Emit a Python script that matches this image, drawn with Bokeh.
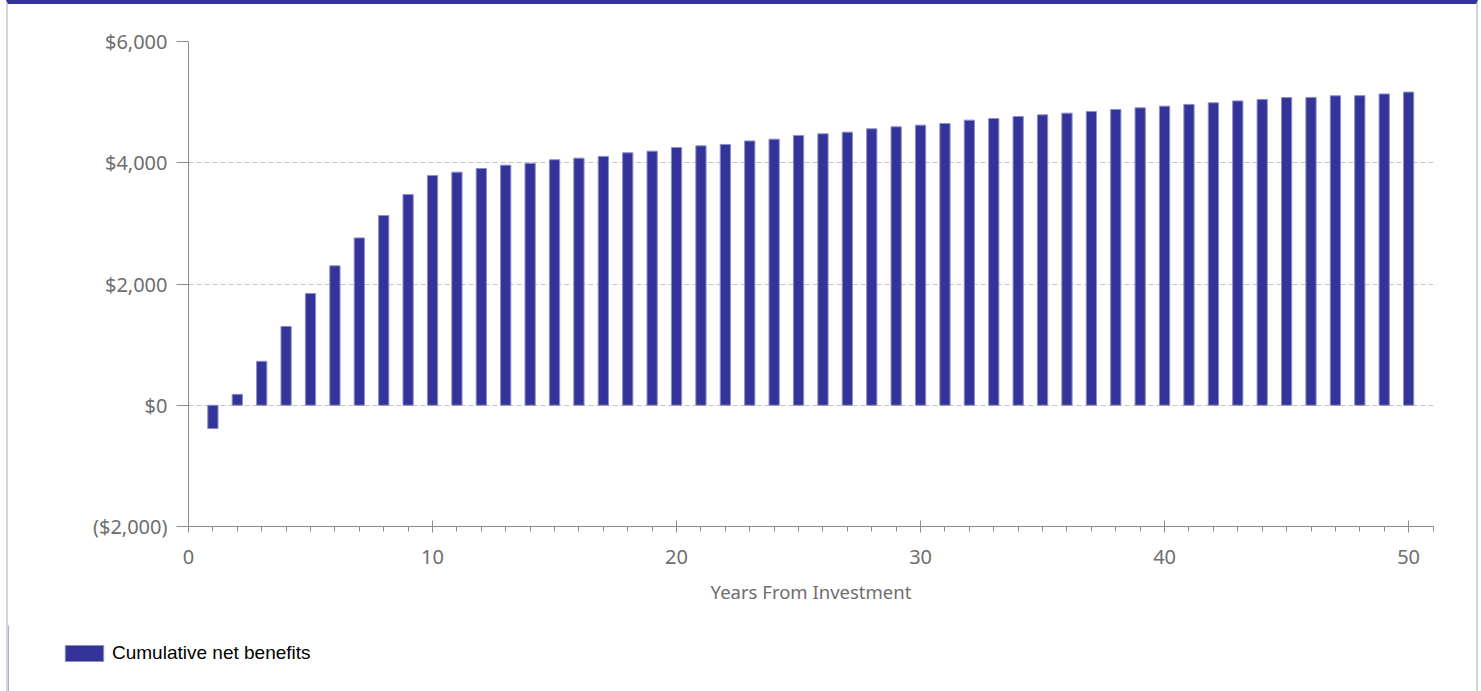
from bokeh.plotting import figure
from bokeh.layouts import column
from bokeh.models import FixedTicker, Legend, LegendItem, Range1d
from bokeh.embed import file_html
from bokeh.resources import INLINE

# ---- data ----
years = list(range(1, 51))
cumulative_net_benefits = [
    -385, 180, 725, 1300, 1843, 2300, 2760, 3130, 3476, 3790,
    3845, 3905, 3960, 3990, 4050, 4076, 4105, 4164, 4191, 4250,
    4279, 4302, 4360, 4389, 4450, 4477, 4505, 4560, 4593, 4620,
    4648, 4703, 4730, 4763, 4790, 4818, 4846, 4879, 4906, 4934,
    4962, 4989, 5020, 5045, 5075, 5078, 5105, 5107, 5135, 5165,
]
y_ticks = [-2000, 0, 2000, 4000, 6000]
y_tick_labels = ["($2,000)", "$0", "$2,000", "$4,000", "$6,000"]
x_ticks = [0, 10, 20, 30, 40, 50]
x_minor_ticks = list(range(0, 52))
x_title = "Years From Investment"
series_name = "Cumulative net benefits"

BAR = "#333399"
BAR_EDGE = "#8e8ec8"
TICK_FONT = "Noto Sans"
SIDE = "2px solid #d4d4d4"

p = figure(
    width=1468, height=621,
    output_backend="svg", toolbar_location=None,
    x_range=Range1d(0, 51.02), y_range=Range1d(-2000, 6000),
    min_border_left=180, min_border_right=43, min_border_top=37, min_border_bottom=99,
)
p.outline_line_color = None
p.background_fill_color = "white"
p.border_fill_color = "white"

p.vbar(x=years, top=cumulative_net_benefits, bottom=0, width=0.42,
       fill_color=BAR, line_color=BAR_EDGE, line_width=1)

# grid
p.xgrid.visible = False
p.ygrid.ticker = FixedTicker(ticks=y_ticks)
p.ygrid.grid_line_color = "#c4c4c4"
p.ygrid.grid_line_dash = "5 3"
p.ygrid.grid_line_width = 1

# x axis
xa = p.xaxis[0]
xa.ticker = FixedTicker(ticks=x_ticks, minor_ticks=x_minor_ticks)
xa.axis_line_color = "#8c8c8c"
xa.major_tick_line_color = "#8c8c8c"
xa.minor_tick_line_color = "#8c8c8c"
xa.major_tick_in = 6
xa.major_tick_out = 6
xa.minor_tick_in = 0
xa.minor_tick_out = 5
xa.major_label_text_font = TICK_FONT
xa.major_label_text_font_size = "20px"
xa.major_label_text_color = "#6e6e6e"
xa.major_label_standoff = 17
xa.axis_label = x_title
xa.axis_label_text_font = TICK_FONT
xa.axis_label_text_font_size = "18.5px"
xa.axis_label_text_font_style = "normal"
xa.axis_label_text_color = "#6e6e6e"
xa.axis_label_standoff = 12

# y axis
ya = p.yaxis[0]
ya.ticker = FixedTicker(ticks=y_ticks, minor_ticks=[])
ya.major_label_overrides = {t: l for t, l in zip(y_ticks, y_tick_labels)}
ya.axis_line_color = "#8c8c8c"
ya.major_tick_line_color = "#8c8c8c"
ya.major_tick_in = 0
ya.major_tick_out = 12
ya.minor_tick_line_color = None
ya.major_label_text_font = TICK_FONT
ya.major_label_text_font_size = "20px"
ya.major_label_text_color = "#6e6e6e"
ya.major_label_standoff = 9

# ---- legend strip (separate panel below the chart) ----
q = figure(
    width=1468, height=66,
    output_backend="svg", toolbar_location=None,
    x_range=Range1d(0, 1), y_range=Range1d(0, 1),
    min_border_left=0, min_border_right=0, min_border_top=0, min_border_bottom=0,
)
q.axis.visible = False
q.grid.visible = False
q.outline_line_color = None
q.border_fill_alpha = 0
q.background_fill_alpha = 0
# proxy renderer (kept outside the visible range) only to give the legend its swatch
legend_r = q.vbar(x=[-10], top=[1], width=0.42, fill_color=BAR, line_color=BAR_EDGE, line_width=1)

legend = Legend(
    items=[LegendItem(label=series_name, renderers=[legend_r])],
    location=(52, 27),
    orientation="horizontal",
    glyph_width=48, glyph_height=20, label_standoff=4,
    padding=0, margin=0, spacing=0,
    border_line_color=None, background_fill_alpha=0,
    label_text_font="Liberation Sans", label_text_font_size="19px",
    label_text_color="#000000",
)
q.add_layout(legend, "center")

layout = column(p, column(q, spacing=0), spacing=0)
layout.styles = {"border-top": "4px solid #333399", "border-left": SIDE,
                 "border-right": SIDE, "background-color": "white"}
layout.margin = (0, 0, 0, 6)
open("out.html", "w").write(file_html(layout, INLINE))
